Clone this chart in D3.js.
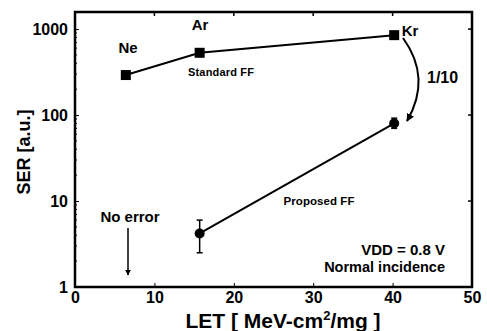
<!DOCTYPE html>
<html>
<head>
<meta charset="utf-8">
<script src="https://cdn.jsdelivr.net/npm/d3@7"></script>
<style>
  body { margin: 0; background: #fff; }
  text { font-family: "Liberation Sans", Arial, sans-serif; font-weight: bold; fill: #000; }
</style>
</head>
<body>
<svg id="chart" width="487" height="331"></svg>
<script>
// data
var ions = ["Ne", "Ar", "Kr"];
var standardLET = [6.4, 15.7, 40.2];
var standardSER = [292, 530, 850];
var proposedLET = [15.7, 40.2];
var proposedSER = [4.2, 80];
var proposedLow = [2.5, 70];
var proposedHigh = [6.0, 92];
var xTicks = [0, 10, 20, 30, 40, 50];
var yTicks = [1, 10, 100, 1000];

var margin = {left: 75, right: 15, top: 12, bottom: 44};
var width = 487, height = 331;

var svg = d3.select("#chart");

var x = d3.scaleLinear().domain([0, 50]).range([margin.left, width - margin.right]);
var y = d3.scaleLog().domain([1, 1580]).range([height - margin.bottom, margin.top]);

var minor = [];
[1, 10, 100, 1000].forEach(function (d) {
  for (var k = 2; k < 10; k++) if (d * k < 1580) minor.push(d * k);
});

// axes (ticks pointing inward)
svg.append("g")
  .attr("transform", "translate(0," + y.range()[0] + ")")
  .call(d3.axisBottom(x).tickValues(xTicks).tickSize(-4).tickPadding(5).tickFormat(d3.format("d")))
  .call(function (g) {
    g.select(".domain").remove();
    g.selectAll("text").style("font-size", "16px");
  });

svg.append("g")
  .attr("transform", "translate(" + x.range()[0] + ",0)")
  .call(d3.axisLeft(y).tickValues(yTicks).tickSize(-4).tickPadding(7).tickFormat(d3.format("d")))
  .call(function (g) {
    g.select(".domain").remove();
    g.selectAll("text").style("font-size", "16px");
  });

// minor ticks on the left
svg.append("g").selectAll("line").data(minor).enter().append("line")
  .attr("x1", x(0)).attr("x2", x(0) + 2)
  .attr("y1", d => y(d)).attr("y2", d => y(d))
  .attr("stroke", "#000").attr("stroke-width", 1);

// top and right ticks
svg.append("g").selectAll("line").data(xTicks.slice(1, -1)).enter().append("line")
  .attr("x1", d => x(d)).attr("x2", d => x(d))
  .attr("y1", y.range()[1]).attr("y2", y.range()[1] + 4)
  .attr("stroke", "#000").attr("stroke-width", 1.5);
svg.append("g").selectAll("line").data(yTicks.slice(1)).enter().append("line")
  .attr("x1", x(50)).attr("x2", x(50) - 4)
  .attr("y1", d => y(d)).attr("y2", d => y(d))
  .attr("stroke", "#000").attr("stroke-width", 1.5);

// frame
svg.append("rect")
  .attr("x", x(0)).attr("y", y.range()[1])
  .attr("width", x(50) - x(0)).attr("height", y.range()[0] - y.range()[1])
  .attr("fill", "none").attr("stroke", "#000").attr("stroke-width", 2.5);

// axis titles
svg.append("text")
  .attr("transform", "translate(30,152) rotate(-90)")
  .attr("text-anchor", "middle")
  .style("font-size", "18px")
  .text("SER [a.u.]");

var xt = svg.append("text")
  .attr("x", 283).attr("y", 328)
  .attr("text-anchor", "middle")
  .style("font-size", "21px");
xt.append("tspan").text("LET [ MeV-cm");
xt.append("tspan").attr("dy", -8).style("font-size", "13px").text("2");
xt.append("tspan").attr("dy", 8).text("/mg ]");

// standard FF
var line = d3.line().x(d => x(d[0])).y(d => y(d[1]));
var std = standardLET.map((d, i) => [d, standardSER[i]]);
svg.append("path").attr("d", line(std)).attr("fill", "none").attr("stroke", "#000").attr("stroke-width", 2);
svg.selectAll("rect.std").data(std).enter().append("rect")
  .attr("x", d => x(d[0]) - 5).attr("y", d => y(d[1]) - 5)
  .attr("width", 10).attr("height", 10).attr("fill", "#000");

// proposed FF
var prop = proposedLET.map((d, i) => [d, proposedSER[i], proposedLow[i], proposedHigh[i]]);
svg.append("path").attr("d", line(prop)).attr("fill", "none").attr("stroke", "#000").attr("stroke-width", 2);
var eb = svg.selectAll("g.eb").data(prop).enter().append("g");
eb.append("line")
  .attr("x1", d => x(d[0])).attr("x2", d => x(d[0]))
  .attr("y1", d => y(d[2])).attr("y2", d => y(d[3]))
  .attr("stroke", "#000").attr("stroke-width", 1.5);
eb.selectAll("line.cap").data(d => [[d[0], d[2]], [d[0], d[3]]]).enter().append("line")
  .attr("x1", d => x(d[0]) - 3).attr("x2", d => x(d[0]) + 3)
  .attr("y1", d => y(d[1])).attr("y2", d => y(d[1]))
  .attr("stroke", "#000").attr("stroke-width", 1.5);
eb.append("circle")
  .attr("cx", d => x(d[0])).attr("cy", d => y(d[1])).attr("r", 5).attr("fill", "#000");

// labels
var ionPos = [[128, 53], [200, 30], [410, 36]];
ions.forEach(function (n, i) {
  svg.append("text").attr("x", ionPos[i][0]).attr("y", ionPos[i][1])
    .attr("text-anchor", "middle").style("font-size", "15px").text(n);
});
svg.append("text").attr("x", 221).attr("y", 76).attr("text-anchor", "middle")
  .style("font-size", "11px").attr("textLength", 66).text("Standard FF");
svg.append("text").attr("x", 319).attr("y", 205).attr("text-anchor", "middle")
  .style("font-size", "11.5px").attr("textLength", 71).text("Proposed FF");
svg.append("text").attr("x", 427).attr("y", 83).attr("text-anchor", "start")
  .style("font-size", "16px").text("1/10");
svg.append("text").attr("x", 445).attr("y", 255).attr("text-anchor", "end")
  .style("font-size", "15px").text("VDD = 0.8 V");
svg.append("text").attr("x", 445).attr("y", 272).attr("text-anchor", "end")
  .style("font-size", "14.5px").text("Normal incidence");
svg.append("text").attr("x", 130).attr("y", 222).attr("text-anchor", "middle")
  .style("font-size", "15px").text("No error");

// arrows
var defs = svg.append("defs");
defs.append("marker").attr("id", "head")
  .attr("viewBox", "0 0 10 10").attr("refX", 9).attr("refY", 5)
  .attr("markerWidth", 4).attr("markerHeight", 4).attr("orient", "auto")
  .append("path").attr("d", "M0,0 L10,5 L0,10 Z").attr("fill", "#000");

svg.append("line")
  .attr("x1", 128).attr("x2", 128).attr("y1", 228).attr("y2", 275)
  .attr("stroke", "#000").attr("stroke-width", 1.5).attr("marker-end", "url(#head)");

svg.append("path")
  .attr("d", "M403,38 Q432,78 407,121")
  .attr("fill", "none").attr("stroke", "#000").attr("stroke-width", 2).attr("marker-end", "url(#head)");
</script>
</body>
</html>
